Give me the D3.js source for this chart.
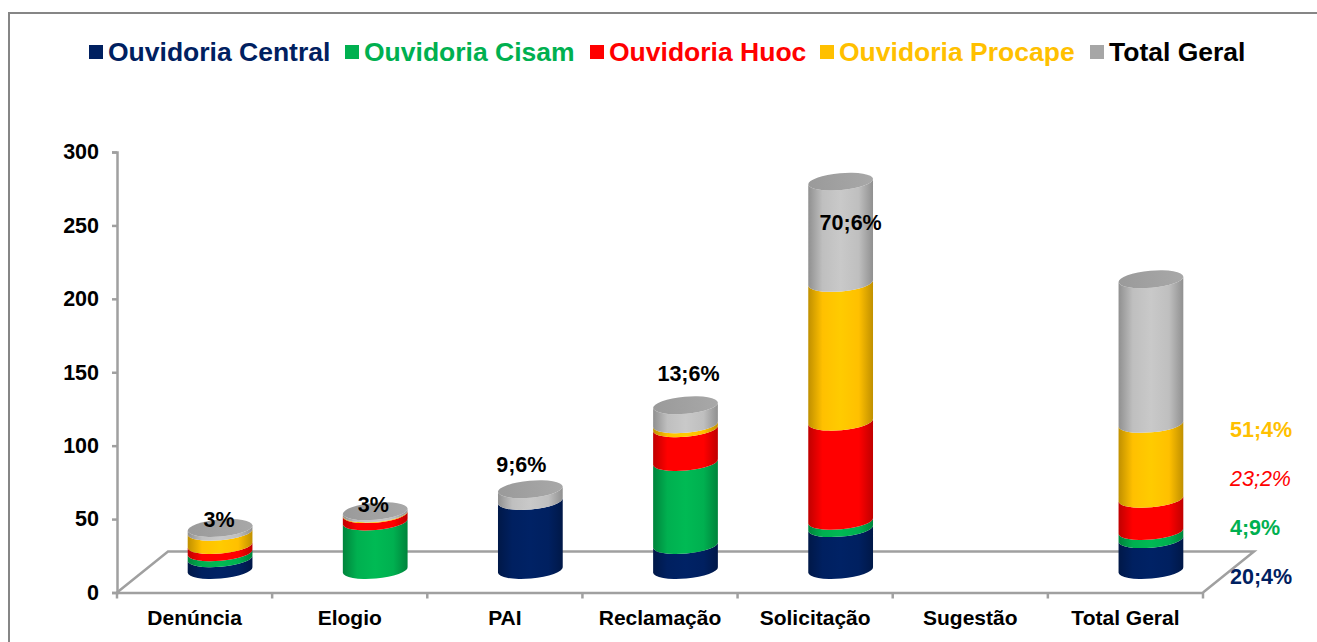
<!DOCTYPE html>
<html>
<head>
<meta charset="utf-8">
<script src="https://cdn.jsdelivr.net/npm/d3@7"></script>
<style>
    html, body { margin: 0; padding: 0; background: #fff; overflow: hidden; }
    text { font-family: "Liberation Sans", Arial, sans-serif; font-weight: bold; }
</style>
</head>
<body>
<div id="chart"></div>
<script>
//Chart values
const categories = ['Denúncia', 'Elogio', 'PAI', 'Reclamação', 'Solicitação', 'Sugestão', 'Total Geral'];
const seriesNames = ['Ouvidoria Central', 'Ouvidoria Cisam', 'Ouvidoria Huoc', 'Ouvidoria Procape', 'Total Geral'];
const seriesColors = ['#002060', '#00b050', '#ff0000', '#ffc000', '#bfbfbf'];
const legendTextColors = ['#002060', '#00b050', '#ff0000', '#ffc000', '#000000'];
const central = [8, 0, 47, 17, 28.5, 0, 21];
const cisam = [4, 33, 0, 56.5, 5, 0, 5.5];
const huoc = [5, 5, 0, 23, 67.5, 0, 22];
const procape = [9, 0.5, 0, 2.7, 94.5, 0, 51];
const totalGeral = [2.6, 1.5, 8, 13, 69, 0, 98.5];
const topLabels = ['3%', '3%', '9;6%', '13;6%', '70;6%', null, null];
const sideLabels = ['51;4%', '23;2%', '4;9%', '20;4%'];
const sideLabelColors = ['#ffc000', '#ff0000', '#00b050', '#002060'];
const yTicks = [0, 50, 100, 150, 200, 250, 300];

const width = 1317;
const height = 642;
const depthX = 51;     //how far the floor goes to the right
const depthY = 41;     //how far the floor goes up
const baseLift = 14;   //front of the cylinder sits this far above the y axis zero
const rx = 32.5;
const ry = 8.5;
const tilt = -5;

//Nudges for the labels over the columns: [right, up] from the top front edge
const labelNudge = {
    'Denúncia': [-1, 10],
    'Elogio': [-2, 8],
    'PAI': [-9, 26],
    'Reclamação': [3, 33],
    'Solicitação': [10, -40]
};

const svg = d3.select('#chart').append('svg')
    .attr('width', width)
    .attr('height', height);

const defs = svg.append('defs');

//Outer frame
svg.append('rect')
    .attr('x', 9).attr('y', 13)
    .attr('width', 1320).attr('height', 640)
    .attr('fill', '#fff')
    .attr('stroke', '#868686')
    .attr('stroke-width', 2);

const x = d3.scaleBand().domain(categories).range([117, 1203]);
const y = d3.scaleLinear().domain([0, 300]).range([592.5, 152]);

//Floor
const floorLine = d3.line();
svg.append('path')
    .attr('d', floorLine([
        [x.range()[0], y(0)],
        [x.range()[0] + depthX, y(0) - depthY],
        [x.range()[1] + depthX, y(0) - depthY],
        [x.range()[1], y(0)]
    ]))
    .attr('fill', 'none')
    .attr('stroke', '#a0a0a0')
    .attr('stroke-width', 2.5);

//Y axis
const yAxis = svg.append('g')
    .attr('transform', `translate(${x.range()[0]},0)`)
    .call(d3.axisLeft(y).tickValues(yTicks).tickSize(5).tickPadding(13));
yAxis.selectAll('path, line').attr('stroke', '#a0a0a0').attr('stroke-width', 2.5);
yAxis.selectAll('text').attr('font-size', 21.5).attr('fill', '#000');

//X axis, the ticks sit on the band edges so they are added by hand below
const xAxis = svg.append('g')
    .attr('transform', `translate(0,${y(0)})`)
    .call(d3.axisBottom(x).tickSize(0).tickPadding(17.5));
xAxis.selectAll('path').attr('stroke', '#a0a0a0').attr('stroke-width', 2.5);
xAxis.selectAll('text').attr('font-size', 21).attr('fill', '#000');
xAxis.selectAll('.edge')
    .data(categories.map(d => x(d)).concat(x.range()[1]))
    .enter().append('line')
    .attr('x1', d => d).attr('x2', d => d)
    .attr('y1', 0).attr('y2', 6)
    .attr('stroke', '#a0a0a0')
    .attr('stroke-width', 2.5);

//Horizontal shading for the cylinder sides
seriesColors.forEach((color, i) => {
    const grad = defs.append('linearGradient')
        .attr('id', 'side' + i)
        .attr('x1', 0).attr('x2', 1).attr('y1', 0).attr('y2', 0);
    const dark = d3.color(color).darker(0.8);
    const bright = d3.color(color).brighter(0.15);
    grad.append('stop').attr('offset', '0%').attr('stop-color', dark);
    grad.append('stop').attr('offset', '22%').attr('stop-color', color);
    grad.append('stop').attr('offset', '50%').attr('stop-color', bright);
    grad.append('stop').attr('offset', '78%').attr('stop-color', color);
    grad.append('stop').attr('offset', '100%').attr('stop-color', dark);
});
const capGrad = defs.append('linearGradient')
    .attr('id', 'cap')
    .attr('x1', 0).attr('x2', 1).attr('y1', 0).attr('y2', 0);
capGrad.append('stop').attr('offset', '0%').attr('stop-color', '#9a9a9a');
capGrad.append('stop').attr('offset', '100%').attr('stop-color', '#a8a8a8');

//Offset from the centre of an ellipse to its left and right points
const dx = rx * Math.cos(tilt * Math.PI / 180);
const dy = rx * Math.sin(tilt * Math.PI / 180);

//A function that builds one cylinder segment, y values are the front edge
function segmentPath(cx, frontBottom, frontTop) {
    const top = frontTop - ry;
    const bottom = frontBottom - ry;
    return `M${cx - dx},${top - dy}`
        + `A${rx},${ry} ${tilt} 0 0 ${cx + dx},${top + dy}`
        + `L${cx + dx},${bottom + dy}`
        + `A${rx},${ry} ${tilt} 0 1 ${cx - dx},${bottom - dy}Z`;
}

const frontY = v => y(v) - baseLift;
const centerX = c => x(c) + x.bandwidth() / 2 + depthX / 2;
const seriesValues = [central, cisam, huoc, procape, totalGeral];

//Draw the stacks
categories.forEach((cat, c) => {
    let sum = 0;
    seriesValues.forEach((values, s) => {
        const v = values[c];
        if (v <= 0) return;
        svg.append('path')
            .attr('d', segmentPath(centerX(cat), frontY(sum), frontY(sum + v)))
            .attr('fill', `url(#side${s})`);
        sum += v;
    });
    if (sum === 0) return;
    svg.append('ellipse')
        .attr('transform', `translate(${centerX(cat)},${frontY(sum) - ry}) rotate(${tilt})`)
        .attr('rx', rx)
        .attr('ry', ry)
        .attr('fill', 'url(#cap)');

    if (topLabels[c]) {
        const [right, up] = labelNudge[cat];
        svg.append('text')
            .attr('x', centerX(cat) + right)
            .attr('y', frontY(sum) - up)
            .attr('text-anchor', 'middle')
            .attr('font-size', 21.5)
            .attr('fill', '#000')
            .text(topLabels[c]);
    }
});

//Labels on the right of the last column
const sideY = d3.scalePoint().domain(sideLabels).range([437, 584]);
svg.selectAll('.side-label')
    .data(sideLabels)
    .enter().append('text')
    .attr('class', 'side-label')
    .attr('x', 1230)
    .attr('y', d => sideY(d))
    .attr('font-size', 21.5)
    .attr('font-style', d => d === '23;2%' ? 'italic' : 'normal')
    .style('font-weight', d => d === '23;2%' ? 'normal' : 'bold')
    .attr('fill', (d, i) => sideLabelColors[i])
    .text(d => d);

//Legend
const legendX = d3.scaleOrdinal().domain(seriesNames).range([89, 345, 590, 820, 1090]);
const legend = svg.selectAll('.legend')
    .data(seriesNames)
    .enter().append('g')
    .attr('class', 'legend')
    .attr('transform', d => `translate(${legendX(d)},45)`);
legend.append('rect')
    .attr('width', 14).attr('height', 14)
    .attr('fill', (d, i) => seriesColors[i] === '#bfbfbf' ? '#a6a6a6' : seriesColors[i]);
legend.append('text')
    .attr('x', 19).attr('y', 16)
    .attr('font-size', 26.5)
    .attr('fill', (d, i) => legendTextColors[i])
    .text(d => d);
</script>
</body>
</html>
